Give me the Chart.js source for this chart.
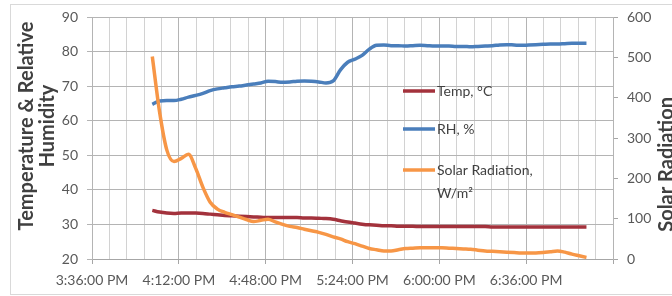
<!DOCTYPE html>
<html><head><meta charset="utf-8">
<script src="https://cdn.jsdelivr.net/npm/chart.js@4.4.1/dist/chart.umd.min.js"></script>
<style>html,body{margin:0;padding:0;background:#fff}#wrap{width:672px;height:296px;position:relative}</style>
</head><body><div id="wrap"><canvas id="c" width="672" height="296"></canvas></div>
<script>
// ---- data ----
const times = ['16:01','16:04','16:07','16:10','16:13','16:16','16:19','16:22','16:25','16:28',
  '16:31','16:34','16:37','16:40','16:43','16:46','16:49','16:52','16:55','16:58',
  '17:01','17:04','17:07','17:10','17:13','17:16','17:19','17:22','17:25','17:28',
  '17:31','17:34','17:37','17:40','17:43','17:46','17:49','17:52','17:55','17:58',
  '18:01','18:04','18:07','18:10','18:13','18:16','18:19','18:22','18:25','18:28',
  '18:31','18:34','18:37','18:40','18:43','18:46','18:49','18:52','18:55','18:58','19:01'];
const tempC = [34.1,33.6,33.3,33.2,33.3,33.3,33.3,33.2,33.0,32.8,
  32.6,32.5,32.4,32.3,32.2,32.1,32.0,32.0,32.0,32.0,
  32.0,31.9,31.9,31.8,31.7,31.5,31.1,30.7,30.4,30.1,
  29.9,29.8,29.6,29.6,29.5,29.5,29.5,29.4,29.4,29.4,
  29.4,29.4,29.4,29.4,29.4,29.4,29.4,29.3,29.3,29.3,
  29.3,29.3,29.3,29.3,29.3,29.3,29.3,29.3,29.3,29.3,29.3];
const rhPct = [64.8,65.8,65.9,65.9,66.3,66.9,67.4,68.0,68.8,69.3,
  69.6,69.9,70.1,70.4,70.7,71.0,71.5,71.4,71.2,71.3,
  71.5,71.6,71.5,71.3,71.0,71.6,74.8,77.0,77.9,79.0,
  80.8,81.9,82.0,81.8,81.8,81.7,81.8,81.9,81.8,81.7,
  81.7,81.7,81.6,81.6,81.5,81.6,81.7,81.8,82.0,82.1,
  82.0,81.9,82.0,82.1,82.2,82.3,82.3,82.4,82.5,82.5,82.5];
const solarWm2 = [503,366,271,242,250,260,225,178,141,124,
  116,110,104,98,93,96,99,92,86,81,
  78,74,70,66,61,55,50,43,38,32,
  26,23,20,20,23,26,27,28,28,28,
  28,27,26,25,24,22,20,19,18,17,
  16,15,15,15,16,18,20,17,12,8,4];
const xTickLabels = ['3:36:00 PM','4:12:00 PM','4:48:00 PM','5:24:00 PM','6:00:00 PM','6:36:00 PM'];
const xStart = '15:36', xEnd = '19:12';
const seriesNames = ['Temp, °C','RH, %',['Solar Radiation,','W/m\u00B2']];
const leftTitle = ['Temperature & Relative','Humidity'];
const rightTitle = 'Solar Radiation';

// ---- helpers ----
const toSec = s => { const [h,m] = s.split(':').map(Number); return h*3600 + m*60; };
const pts = arr => times.map((t,i) => ({x: toSec(t), y: arr[i]}));
const FONT = 'Lato';
const C_TEMP = '#A3323C', C_RH = '#4A7EBB', C_SOLAR = '#F79646';
const GRID = '#B4B4B4', GRID_MINOR = '#D2D2D2';

const decor = {
  id: 'decor',
  beforeDraw(chart) {
    const ctx = chart.ctx;
    ctx.save();
    ctx.fillStyle = '#fff';
    ctx.fillRect(0, 0, chart.width, chart.height);
    ctx.strokeStyle = '#D9D9D9';
    ctx.lineWidth = 1;
    ctx.strokeRect(10.5, 4.5, chart.width, chart.height - 6);
    ctx.restore();
  },
  afterDraw(chart) {
    const ctx = chart.ctx;
    ctx.font = 'bold 20px ' + FONT;
    ctx.fillStyle = '#404040';
    ctx.textBaseline = 'middle';
    // left axis title (two lines, bottom to top)
    ctx.save();
    ctx.translate(27, 126);
    ctx.rotate(-Math.PI / 2);
    ctx.textAlign = 'center';
    leftTitle.forEach((l, j) => ctx.fillText(l, 0, j * 21));
    ctx.restore();
    // right axis title (bottom to top)
    ctx.save();
    ctx.translate(667, 97);
    ctx.rotate(-Math.PI / 2);
    ctx.textAlign = 'right';
    ctx.fillText(rightTitle, 0, 0);
    ctx.restore();
    // legend inside plot
    ctx.save();
    const ys = [91, 129, 170];
    const ds = chart.data.datasets;
    ctx.font = '14px ' + FONT;
    ctx.textBaseline = 'middle';
    ctx.textAlign = 'left';
    ys.forEach((y, i) => {
      ctx.strokeStyle = ds[i].borderColor;
      ctx.lineWidth = 3.5;
      ctx.beginPath(); ctx.moveTo(403, y); ctx.lineTo(435, y); ctx.stroke();
      ctx.fillStyle = '#404040';
      const lines = [].concat(seriesNames[i]);
      lines.forEach((l, j) => ctx.fillText(l, 437, y + j * 23));
    });
    ctx.restore();
  }
};

new Chart(document.getElementById('c'), {
  type: 'line',
  data: {
    datasets: [
      {label: 'Temp', data: pts(tempC), borderColor: C_TEMP, yAxisID: 'y', order: 2},
      {label: 'RH', data: pts(rhPct), borderColor: C_RH, yAxisID: 'y', order: 1},
      {label: 'Solar', data: pts(solarWm2), borderColor: C_SOLAR, yAxisID: 'y1', order: 0}
    ]
  },
  options: {
    responsive: false,
    animation: false,
    devicePixelRatio: 1,
    layout: {padding: {top: 16, left: 0, right: 0, bottom: 0}},
    elements: {
      line: {borderWidth: 3.5, tension: 0.4, cubicInterpolationMode: 'monotone', fill: false},
      point: {radius: 0}
    },
    plugins: {legend: {display: false}, tooltip: {enabled: false}},
    scales: {
      x: {
        type: 'linear',
        min: toSec(xStart), max: toSec(xEnd),
        afterFit: s => { s.height = 37; },
        grid: {
          color: c => (c.index % 5 === 0 ? GRID : GRID_MINOR),
          tickColor: c => (c.index % 5 === 0 ? '#A6A6A6' : 'rgba(0,0,0,0)'),
          tickLength: 5
        },
        border: {color: '#A6A6A6'},
        ticks: {
          stepSize: 432, autoSkip: false, maxRotation: 0, padding: 8,
          font: {family: FONT, size: 14}, color: '#595959',
          callback: (v, i) => (i % 5 === 0 && xTickLabels[i / 5] !== undefined ? xTickLabels[i / 5] : '')
        }
      },
      y: {
        position: 'left',
        min: 20, max: 90,
        afterFit: s => { s.width = 92; },
        grid: {color: GRID, tickColor: GRID, tickLength: 5},
        border: {color: GRID},
        ticks: {stepSize: 10, padding: 9, font: {family: FONT, size: 14}, color: '#595959'},
        title: {display: false}
      },
      y1: {
        position: 'right',
        min: 0, max: 600,
        afterFit: s => { s.width = 59; },
        grid: {drawOnChartArea: false, tickColor: '#A6A6A6', tickLength: 5},
        border: {color: GRID},
        ticks: {stepSize: 100, padding: 9, font: {family: FONT, size: 14}, color: '#595959'}
      }
    }
  },
  plugins: [decor]
});
</script></body></html>
